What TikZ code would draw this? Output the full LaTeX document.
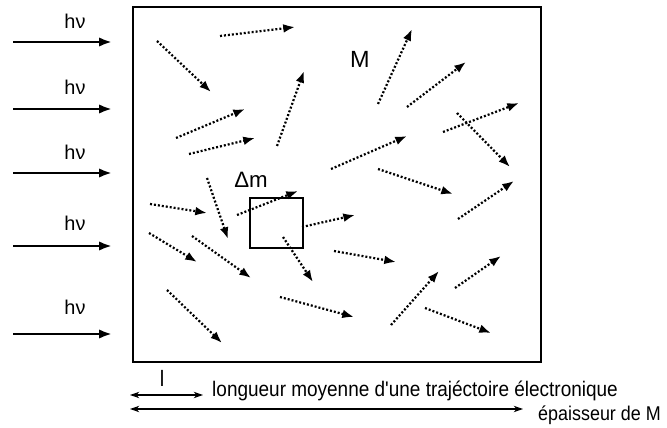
\documentclass[tikz,border=0pt]{standalone}
\usepackage{fontspec}
\setmainfont{Liberation Sans}
\newfontfamily\narrowfont[FakeStretch=0.9]{Liberation Sans}
\usetikzlibrary{arrows.meta}
\tikzset{
  photon/.style={-{Latex[length=11pt, width=8pt]}, line width=2.3pt},
  traj/.style={-{Latex[length=10pt, width=7.5pt]}, line width=1.9pt, dash pattern=on 1.7pt off 1.7pt},
  lbl/.style={inner sep=0pt, font=\fontsize{17}{20}\selectfont},
  bar/.style={{Stealth[length=8pt, width=5.5pt]}-{Stealth[length=8pt, width=5.5pt]}, line width=1pt},
}

\begin{document}
\begin{tikzpicture}[x=0.03cm, y=-0.03cm]
  \useasboundingbox (0,0) rectangle (667,428);
  \draw[line width=1pt] (133,7) rectangle (541,362);
  \foreach \y/\ly [count=\i] in {42/21, 109/87, 173/152, 246/223, 334/307} {
    \coordinate (pin\i) at (13,\y);
    \coordinate (pout\i) at (112,\y);
    \node[lbl] (hv\i) at (75,\ly) {hν};
    \draw[photon] (pin\i) -- (pout\i);
  }
  \foreach \ax/\ay/\bx/\by in {157/41/211/92, 220/36/295/27, 378/104/412/29, 407/107/466/62,
      277/146/304/71, 176/138/245/109, 189/154/255/138, 443/132/519/103, 457/113/510/167,
      331/169/407/136, 378/169/453/194, 207/178/228/239, 150/204/207/213, 237/215/298/191,
      302/227/355/215, 458/219/514/181, 149/233/197/262, 192/236/251/278, 283/237/313/282,
      334/251/396/262, 455/288/501/256, 167/290/222/343, 280/297/354/317, 391/325/439/271,
      425/308/491/333}
    \draw[traj] (\ax,\ay) -- (\bx,\by);
  \draw[line width=1.7pt] (250,198) rectangle (303,248);
  \node[lbl, font=\fontsize{20}{24}\selectfont] (mat) at (360,59) {M};
  \node[lbl, font=\fontsize{19}{22}\selectfont] (dm) at (251,180) {Δm};
  \coordinate (l0) at (130,395);
  \coordinate (l1) at (203,395);
  \coordinate (e0) at (130,409);
  \coordinate (e1) at (523,409);
  \draw[bar] (l0) -- (l1);
  \draw[bar] (e0) -- (e1);
  \node[lbl, font=\narrowfont\fontsize{19}{22}\selectfont] (lpm) at (162,378) {l};
  \node[lbl, anchor=base west, font=\narrowfont\fontsize{18}{21}\selectfont] (lmoy) at (212,396) {longueur moyenne d'une trajéctoire électronique};
  \node[lbl, anchor=base west, font=\narrowfont\fontsize{17}{20}\selectfont] (ep) at (538,420) {épaisseur de M};
\end{tikzpicture}
\end{document}
